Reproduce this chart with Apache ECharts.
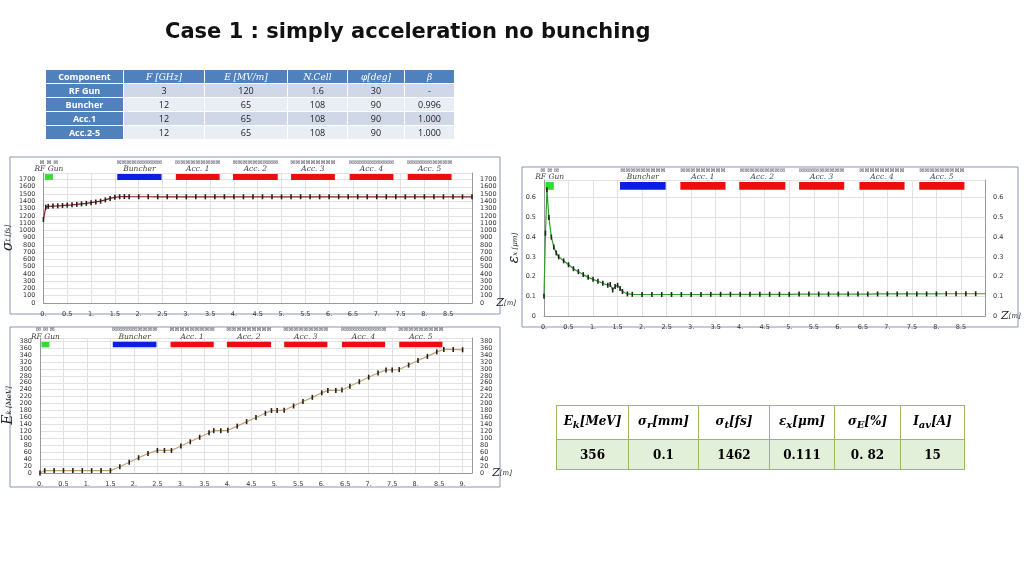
<!DOCTYPE html>
<html>
<head>
<meta charset="utf-8">
<script src="https://cdn.jsdelivr.net/npm/echarts@6/dist/echarts.min.js"></script>
<style>
body{margin:0;background:#fff;font-family:"Open Sans",sans-serif;}
#wrap{position:relative;width:1024px;height:576px;}
#chart{position:absolute;left:0;top:0;width:1024px;height:576px;}
table{position:absolute;border-collapse:collapse;table-layout:fixed;}
#t1 td{font-size:9px;text-align:center;height:13px;padding:0;border:1px solid #fff;color:#222;}
#t1 tr td.h{background:#4f81bd;color:#fff;font-family:"DejaVu Serif",serif;font-style:italic;}
#t1 tr td.c{background:#4f81bd;color:#fff;font-weight:bold;font-family:"Open Sans";}
#t1 .a td{background:#d0d8e8;} #t1 .b td{background:#e9edf4;}
#t2 td{border:1px solid #9bbb59;text-align:center;font-family:"DejaVu Serif",serif;font-weight:bold;font-size:12px;padding:0;}
#t2 .hd td{height:33px;font-style:italic;background:#fff;}
#t2 .dt td{height:29px;background:#e2efd9;}
</style>
</head>
<body>
<div id="wrap">
<div id="chart"></div>
<table id="t1" style="left:45px;top:69px;width:410px;">
<tr><td class="c" style="width:77px">Component</td><td class="h" style="width:80px">F [GHz]</td><td class="h" style="width:82px">E [MV/m]</td><td class="h" style="width:59px">N.Cell</td><td class="h" style="width:56px">φ[deg]</td><td class="h">β</td></tr>
<tr class="a"><td class="c">RF Gun</td><td>3</td><td>120</td><td>1.6</td><td>30</td><td>-</td></tr>
<tr class="b"><td class="c">Buncher</td><td>12</td><td>65</td><td>108</td><td>90</td><td>0.996</td></tr>
<tr class="a"><td class="c">Acc.1</td><td>12</td><td>65</td><td>108</td><td>90</td><td>1.000</td></tr>
<tr class="b"><td class="c">Acc.2-5</td><td>12</td><td>65</td><td>108</td><td>90</td><td>1.000</td></tr>
</table>
<table id="t2" style="left:556px;top:405px;width:409px;">
<tr class="hd"><td style="width:71px">E<sub>k</sub>[MeV]</td><td style="width:69px">σ<sub>r</sub>[mm]</td><td style="width:70px">σ<sub>t</sub>[fs]</td><td style="width:64px">ε<sub>x</sub>[μm]</td><td style="width:65px">σ<sub>E</sub>[%]</td><td>I<sub>av</sub>[A]</td></tr>
<tr class="dt"><td>356</td><td>0.1</td><td>1462</td><td>0.111</td><td>0. 82</td><td>15</td></tr>
</table>
</div>
<script>
// beamline components [start, end] in m
var compNames = ['RF Gun', 'Buncher', 'Acc.1', 'Acc.2', 'Acc.3', 'Acc.4', 'Acc.5'];
var compStart = [0.03, 1.55, 2.78, 3.98, 5.2, 6.43, 7.65];
var compEnd = [0.2, 2.48, 3.7, 4.92, 6.12, 7.35, 8.57];
var compColor = ['#33dd33', '#0a1fe0', '#ee0d0d', '#ee0d0d', '#ee0d0d', '#ee0d0d', '#ee0d0d'];

// sigma_t [fs] vs z
var zSig = [0, 0.05, 0.1, 0.2, 0.3, 0.4, 0.5, 0.6, 0.7, 0.8, 0.9, 1.0, 1.1, 1.2, 1.3, 1.4, 1.5, 1.6, 1.7, 1.8, 2.0, 2.2, 2.4, 2.6, 2.8, 3.0, 3.2, 3.4, 3.6, 3.8, 4.0, 4.2, 4.4, 4.6, 4.8, 5.0, 5.2, 5.4, 5.6, 5.8, 6.0, 6.2, 6.4, 6.6, 6.8, 7.0, 7.2, 7.4, 7.6, 7.8, 8.0, 8.2, 8.4, 8.6, 8.8, 9.0];
var sig = [1150, 1320, 1330, 1335, 1338, 1342, 1348, 1352, 1358, 1365, 1372, 1382, 1392, 1402, 1420, 1440, 1455, 1463, 1465, 1464, 1463, 1463, 1462, 1463, 1462, 1462, 1463, 1462, 1462, 1463, 1462, 1462, 1462, 1463, 1462, 1462, 1462, 1463, 1462, 1462, 1462, 1463, 1462, 1462, 1462, 1463, 1462, 1462, 1462, 1462, 1463, 1462, 1462, 1462, 1462, 1462];

// emittance [um] vs z
var zEps = [0, 0.03, 0.06, 0.1, 0.15, 0.2, 0.25, 0.3, 0.4, 0.5, 0.6, 0.7, 0.8, 0.9, 1.0, 1.1, 1.2, 1.3, 1.35, 1.4, 1.45, 1.5, 1.55, 1.6, 1.7, 1.8, 2.0, 2.2, 2.4, 2.6, 2.8, 3.0, 3.2, 3.4, 3.6, 3.8, 4.0, 4.2, 4.4, 4.6, 4.8, 5.0, 5.2, 5.4, 5.6, 5.8, 6.0, 6.2, 6.4, 6.6, 6.8, 7.0, 7.2, 7.4, 7.6, 7.8, 8.0, 8.2, 8.4, 8.6, 8.8, 9.0];
var eps = [0.10, 0.42, 0.64, 0.50, 0.40, 0.35, 0.32, 0.30, 0.28, 0.26, 0.24, 0.225, 0.21, 0.196, 0.186, 0.176, 0.166, 0.156, 0.16, 0.132, 0.15, 0.156, 0.14, 0.124, 0.112, 0.11, 0.109, 0.109, 0.109, 0.109, 0.109, 0.109, 0.109, 0.11, 0.11, 0.11, 0.11, 0.11, 0.11, 0.11, 0.11, 0.11, 0.111, 0.111, 0.111, 0.111, 0.111, 0.111, 0.111, 0.111, 0.112, 0.112, 0.112, 0.112, 0.112, 0.112, 0.112, 0.113, 0.113, 0.113, 0.113, 0.113];

// kinetic energy [MeV] vs z
var zEk = [0, 0.1, 0.3, 0.5, 0.7, 0.9, 1.1, 1.3, 1.5, 1.7, 1.9, 2.1, 2.3, 2.5, 2.65, 2.8, 3.0, 3.2, 3.4, 3.6, 3.7, 3.85, 4.0, 4.2, 4.4, 4.6, 4.8, 4.93, 5.05, 5.2, 5.4, 5.6, 5.8, 6.0, 6.13, 6.3, 6.43, 6.6, 6.8, 7.0, 7.2, 7.37, 7.5, 7.65, 7.85, 8.05, 8.25, 8.45, 8.6, 8.8, 9.0];
var ek = [0, 7, 7, 7, 7, 7, 7, 7, 7, 18, 31, 44, 56, 65, 65, 65, 78, 90, 103, 116, 122, 122, 123, 135, 148, 160, 172, 180, 180, 181, 193, 206, 218, 231, 238, 238, 239, 250, 263, 276, 288, 297, 297, 298, 311, 324, 336, 349, 356, 356, 355];

var sigTicks = 100, epsTicks = 0.1, ekTicks = 20;

var chart = echarts.init(document.getElementById('chart'));
var grids = [], xAxes = [], yAxes = [], series = [], graphics = [];
var axisTxt = {fontSize: 6.5, color: '#333', fontFamily: 'DejaVu Sans'};

function panel(i, box, grid, xMax, yMax, yInt, barLo, barHi, z, v, lineColor, yName) {
  grids.push(grid);
  xAxes.push({type: 'value', gridIndex: i, min: 0, max: xMax, interval: 0.5,
    axisLabel: Object.assign({showMaxLabel: false, formatter: function (x) { return Number.isInteger(x) ? x + '.' : x; }}, axisTxt),
    axisTick: {show: false}, axisLine: {lineStyle: {color: '#999'}},
    splitLine: {lineStyle: {color: '#e2e2e2'}},
    name: '{z|Z}[m]', nameLocation: 'end', nameGap: 3,
    nameTextStyle: {rich: {z: {fontSize: 11, fontFamily: 'DejaVu Serif', color: '#222'}}, fontSize: 7, color: '#333', fontFamily: 'DejaVu Serif', fontStyle: 'italic', align: 'left', verticalAlign: 'middle'}});
  var ya = yAxes.length;
  var lab = Object.assign({showMaxLabel: false, formatter: function (x) { return String(x); }}, axisTxt);
  yAxes.push({type: 'value', gridIndex: i, min: 0, max: yMax, interval: yInt, axisLabel: lab,
    axisTick: {show: false}, axisLine: {show: true, lineStyle: {color: '#999'}},
    splitLine: {lineStyle: {color: '#e2e2e2'}},
    name: yName, nameLocation: 'middle', nameGap: 14, nameRotate: 90,
    nameTextStyle: {fontFamily: 'DejaVu Serif', fontStyle: 'italic', fontSize: 7, color: '#222', rich: {b: {fontSize: 14, fontFamily: 'DejaVu Serif', fontStyle: 'italic', color: '#222'}}}});
  yAxes.push({type: 'value', gridIndex: i, position: 'right', min: 0, max: yMax, interval: yInt, axisLabel: lab,
    axisTick: {show: false}, axisLine: {show: true, lineStyle: {color: '#999'}}, splitLine: {show: false}});
  series.push({type: 'line', xAxisIndex: i, yAxisIndex: ya, data: z.map(function (x, k) { return [x, v[k]]; }),
    lineStyle: {color: lineColor, width: 1.2}, symbol: 'rect', symbolSize: [1.6, 5],
    itemStyle: {color: '#222'}, animation: false});
  series.push({type: 'custom', xAxisIndex: i, yAxisIndex: ya, clip: false, animation: false,
    data: compNames.map(function (n, k) { return [compStart[k], compEnd[k], k]; }),
    renderItem: function (params, api) {
      var k = api.value(2);
      var p0 = api.coord([api.value(0), barHi]), p1 = api.coord([api.value(1), barLo]);
      var cx = (p0[0] + p1[0]) / 2;
      var icons = k === 0 ? '⊠ ⊠ ⊠' : '⊠⊠⊠⊠⊠⊠⊠⊠⊠';
      return {type: 'group', children: [
        {type: 'rect', shape: {x: p0[0], y: p0[1], width: p1[0] - p0[0], height: p1[1] - p0[1]}, style: {fill: compColor[k]}},
        {type: 'text', style: {x: cx, y: p0[1] - 1, text: compNames[k].replace('.', '. '), align: 'center', verticalAlign: 'bottom', fill: '#444', font: 'italic 7.5px "DejaVu Serif"'}},
        {type: 'text', style: {x: cx, y: p0[1] - 9, text: icons, align: 'center', verticalAlign: 'bottom', fill: '#556', font: '6px "DejaVu Sans"'}}
      ]};
    }});
  graphics.push({type: 'rect', shape: box, style: {fill: 'none', stroke: '#8898b0', lineWidth: 1}});
}

panel(0, {x: 10, y: 157, width: 490, height: 157}, {left: 34, right: 552, top: 173, bottom: 273},
  9, 1790, sigTicks, 1695, 1775, zSig, sig, '#8b1a1a', '{b|σ}t [fs]');
panel(1, {x: 522, y: 167, width: 496, height: 160}, {left: 544, right: 39, top: 180, bottom: 260},
  8.99, 0.69, epsTicks, 0.64, 0.68, zEps, eps, '#2e9e2e', '{b|ε}x [μm]');
panel(2, {x: 10, y: 327, width: 490, height: 160}, {left: 40, right: 552, top: 338, bottom: 103},
  9.2, 389, ekTicks, 362, 378, zEk, ek, '#c8a070', '{b|E}k [MeV]');

graphics.push({type: 'text', left: 165, top: 22, style: {text: 'Case 1 : simply acceleration no bunching', font: 'bold 21px "DejaVu Sans"', fill: '#111'}});

chart.setOption({animation: false, grid: grids, xAxis: xAxes, yAxis: yAxes, series: series, graphic: graphics});
window.addEventListener('resize', function () { chart.resize(); });
</script>
</body>
</html>
